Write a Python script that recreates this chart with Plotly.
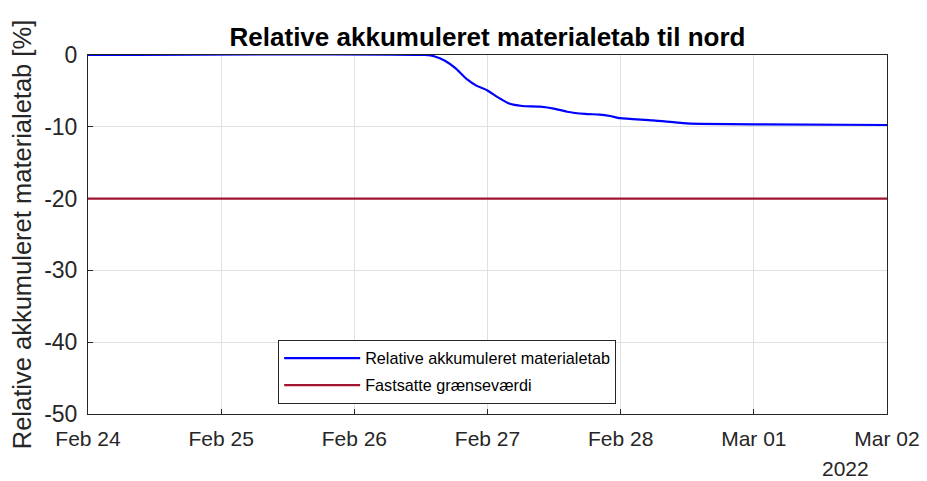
import plotly.graph_objects as go

# Relative accumulated material loss (north)
times = [
    "2022-02-24 00:00", "2022-02-26 12:45", "2022-02-26 14:30", "2022-02-26 16:20",
    "2022-02-26 18:10", "2022-02-26 20:20", "2022-02-26 22:05", "2022-02-26 23:55",
    "2022-02-27 01:40", "2022-02-27 04:00", "2022-02-27 06:15", "2022-02-27 09:30",
    "2022-02-27 12:10", "2022-02-27 14:20", "2022-02-27 17:35", "2022-02-27 20:15",
    "2022-02-27 22:05", "2022-02-27 23:55", "2022-02-28 05:50", "2022-02-28 11:15",
    "2022-02-28 14:20", "2022-03-01 00:00", "2022-03-02 00:00",
]
loss = [
    0, 0, -0.2, -0.8,
    -1.8, -3.4, -4.3, -4.9,
    -5.8, -6.8, -7.1, -7.2,
    -7.5, -7.9, -8.2, -8.3,
    -8.5, -8.8, -9.1, -9.5,
    -9.6, -9.65, -9.75,
]
limit_times = ["2022-02-24 00:00", "2022-03-02 00:00"]
limit_vals = [-20, -20]

y_ticks = [0, -10, -20, -30, -40, -50]
y_labels = ["0", "-10", "-20", "-30", "-40", "-50"]

font = "Liberation Sans, Arial, sans-serif"
tick_col = "#262626"

# page body has an 8px margin, so the figure is a bit smaller than the window
W, H = 919, 473

fig = go.Figure()
fig.add_trace(go.Scatter(
    x=times, y=loss, mode="lines", name="Relative akkumuleret materialetab",
    legendgroup="a",
    line=dict(color="#0000ff", width=2.2, shape="spline", smoothing=0.6),
))
fig.add_trace(go.Scatter(
    x=limit_times, y=limit_vals, mode="lines", name="Fastsatte grænseværdi",
    legendgroup="b",
    line=dict(color="#a2142f", width=2.2),
))

fig.update_layout(
    width=W, height=H,
    margin=dict(l=80, r=40, t=47, b=67, autoexpand=False),
    paper_bgcolor="white", plot_bgcolor="white",
    font=dict(family=font, color=tick_col, size=21),
    title=dict(text="<b>Relative akkumuleret materialetab til nord</b>",
               x=0.5, xref="paper", xanchor="center",
               y=1 - 29 / H, yref="container", yanchor="middle",
               font=dict(size=26, color="black")),
    showlegend=True,
    legend=dict(x=0.238, y=0.206, xanchor="left", yanchor="top",
                bgcolor="white", bordercolor="#262626", borderwidth=1,
                font=dict(size=16.2, color="black"), itemwidth=76,
                traceorder="grouped", tracegroupgap=3),
    annotations=[dict(text="2022", x=1.0, xref="paper", y=0, yref="paper",
                      xanchor="center", yanchor="middle", showarrow=False,
                      xshift=-42, yshift=-54, font=dict(size=21, color=tick_col))],
)
fig.update_xaxes(
    type="date", range=["2022-02-24", "2022-03-02"], automargin=False,
    dtick=86400000, tickformat="%b %d", ticks="inside", ticklen=5,
    ticklabelstandoff=6, layer="below traces",
    tickcolor=tick_col, showgrid=True, gridcolor="#e0e0e0",
    showline=True, linecolor=tick_col, linewidth=1, mirror=True,
    zeroline=False,
)
fig.update_yaxes(
    range=[-50, 0], tickvals=y_ticks, ticktext=y_labels, automargin=False,
    ticks="inside", ticklen=5, tickcolor=tick_col, ticklabelstandoff=5,
    tickfont=dict(size=23), layer="below traces",
    showgrid=True, gridcolor="#e0e0e0", showline=True, linecolor=tick_col,
    linewidth=1, mirror=True, zeroline=False,
    title=dict(text="Relative akkumuleret materialetab [%]",
               font=dict(size=25.5, color=tick_col), standoff=6),
)

fig.write_html("out.html")
